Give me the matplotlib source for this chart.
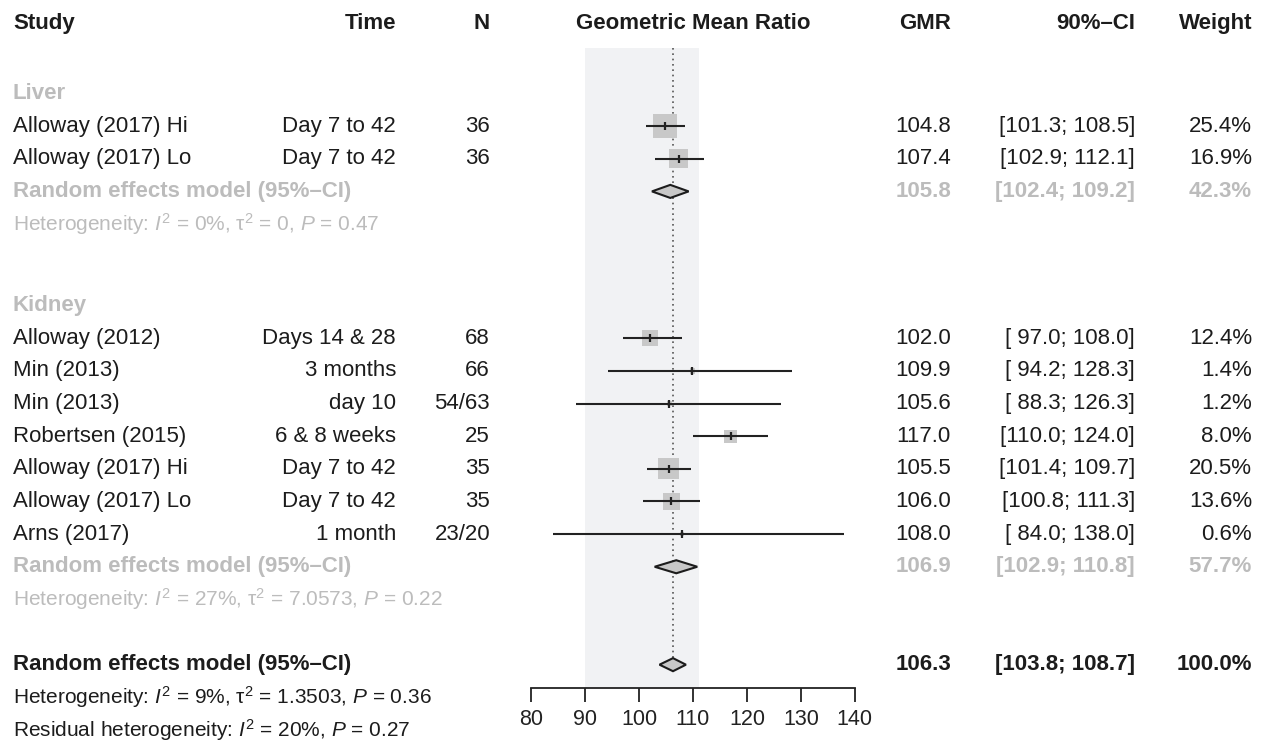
import matplotlib
matplotlib.use("Agg")
import matplotlib.pyplot as plt
from matplotlib.transforms import blended_transform_factory

plt.rcParams['font.family'] = ['Liberation Sans', 'DejaVu Sans']
plt.rcParams['mathtext.fontset'] = 'custom'
plt.rcParams['mathtext.rm'] = 'Liberation Sans'
plt.rcParams['mathtext.it'] = 'Liberation Sans:italic'
plt.rcParams['mathtext.bf'] = 'Liberation Sans:bold'

# ---------------- data ----------------
liver_study = ["Alloway (2017) Hi", "Alloway (2017) Lo"]
liver_time = ["Day 7 to 42", "Day 7 to 42"]
liver_n = ["36", "36"]
liver_gmr = [104.8, 107.4]
liver_lo = [101.3, 102.9]
liver_hi = [108.5, 112.1]
liver_w = [25.4, 16.9]
liver_re = (105.8, 102.4, 109.2, 42.3)
liver_het = r"Heterogeneity: $I^2$ = 0%, τ$^2$ = 0, $P$ = 0.47"

kidney_study = ["Alloway (2012)", "Min (2013)", "Min (2013)", "Robertsen (2015)",
                "Alloway (2017) Hi", "Alloway (2017) Lo", "Arns (2017)"]
kidney_time = ["Days 14 & 28", "3 months", "day 10", "6 & 8 weeks",
               "Day 7 to 42", "Day 7 to 42", "1 month"]
kidney_n = ["68", "66", "54/63", "25", "35", "35", "23/20"]
kidney_gmr = [102.0, 109.9, 105.6, 117.0, 105.5, 106.0, 108.0]
kidney_lo = [97.0, 94.2, 88.3, 110.0, 101.4, 100.8, 84.0]
kidney_hi = [108.0, 128.3, 126.3, 124.0, 109.7, 111.3, 138.0]
kidney_w = [12.4, 1.4, 1.2, 8.0, 20.5, 13.6, 0.6]
kidney_re = (106.9, 102.9, 110.8, 57.7)
kidney_het = r"Heterogeneity: $I^2$ = 27%, τ$^2$ = 7.0573, $P$ = 0.22"

overall_re = (106.3, 103.8, 108.7, 100.0)
overall_het = r"Heterogeneity: $I^2$ = 9%, τ$^2$ = 1.3503, $P$ = 0.36"
resid_het = r"Residual heterogeneity: $I^2$ = 20%, $P$ = 0.27"

x_ticks = [80, 90, 100, 110, 120, 130, 140]
equiv_band = (90, 111.11)
headers = ["Study", "Time", "N", "Geometric Mean Ratio", "GMR", "90%–CI", "Weight"]

# ---------------- layout ----------------
W, H = 1264, 752
fig = plt.figure(figsize=(W / 100, H / 100), dpi=100)
y0, s = 28.2, 32.64          # pixel of row 0, row spacing
ytop = (0 - y0) / s
ybot = (H - y0) / s
x80, x140 = 531.1, 854.8

fx = fig.add_axes([x80 / W, 0, (x140 - x80) / W, 1])
fx.set_xlim(80, 140)
fx.set_ylim(ybot, ytop)
fx.patch.set_alpha(0)
for sp in ['top', 'left', 'right']:
    fx.spines[sp].set_visible(False)
axis_row = (688 - y0) / s
fx.spines['bottom'].set_position(('data', axis_row))
fx.spines['bottom'].set_bounds(80, 140)
fx.spines['bottom'].set_color('#222222')
fx.spines['bottom'].set_linewidth(1.3)
fx.set_yticks([])
fx.set_xticks(x_ticks)
fx.set_xticklabels([str(t) for t in x_ticks])
fx.tick_params(axis='x', direction='out', length=10, width=1.3, color='#222222',
               labelsize=15.5, labelcolor='#222222', pad=5)

trans = blended_transform_factory(fig.transFigure, fx.transData)

BLACK = '#1c1c1c'
GREY = '#bcbcbc'
SQ = '#c8c8c8'
FS = 16
FSH = 15

col_study = 13 / W
col_time = 396 / W
col_n = 490 / W
col_gmr = 951 / W
col_ci = 1135 / W
col_w = 1252 / W

# header
hr = -0.15
kw = dict(transform=trans, va='center', fontsize=FS, fontweight='bold', color=BLACK)
fig.text(col_study, hr, headers[0], ha='left', **kw)
fig.text(col_time, hr, headers[1], ha='right', **kw)
fig.text(col_n, hr, headers[2], ha='right', **kw)
fx.text(110, hr, headers[3], ha='center', va='center', fontsize=FS, fontweight='bold', color=BLACK)
fig.text(col_gmr, hr, headers[4], ha='right', **kw)
fig.text(col_ci, hr, headers[5], ha='right', **kw)
fig.text(col_w, hr, headers[6], ha='right', **kw)

# band and reference line
band_top = 0.6
overall_row = 19.5
fx.fill_betweenx([band_top, axis_row], equiv_band[0], equiv_band[1], color='#f1f2f4',
                 lw=0, zorder=0)
fx.plot([overall_re[0], overall_re[0]], [band_top, overall_row], color='#555555',
        lw=1.2, ls=(0, (1, 2.2)), zorder=1)


def ci_text(lo, hi):
    return "[{:5.1f}; {:5.1f}]".format(lo, hi)


def study_rows(rows, study, time, n, gmr, lo, hi, w):
    for r, st, t, nn, g, l, h, ww in zip(rows, study, time, n, gmr, lo, hi, w):
        kw = dict(transform=trans, va='center', fontsize=FS, color=BLACK)
        fig.text(col_study, r, st, ha='left', **kw)
        fig.text(col_time, r, t, ha='right', **kw)
        fig.text(col_n, r, nn, ha='right', **kw)
        fig.text(col_gmr, r, "{:.1f}".format(g), ha='right', **kw)
        fig.text(col_ci, r, ci_text(l, h), ha='right', **kw)
        fig.text(col_w, r, "{:.1f}%".format(ww), ha='right', **kw)
    fx.scatter(gmr, rows, marker='s', s=[11.2 * ww for ww in w], color=SQ,
               linewidths=0, zorder=2)
    fx.hlines(rows, lo, hi, color='#222222', lw=1.5, zorder=3)
    fx.scatter(gmr, rows, marker='|', s=40, color='#222222', linewidths=1.6, zorder=4)


def pooled_row(r, re, color, label_color):
    est, lo, hi, w = re
    kw = dict(transform=trans, va='center', fontsize=FS, fontweight='bold', color=label_color)
    fig.text(col_study, r, "Random effects model (95%–CI)", ha='left', **kw)
    fig.text(col_gmr, r, "{:.1f}".format(est), ha='right', **kw)
    fig.text(col_ci, r, ci_text(lo, hi), ha='right', **kw)
    fig.text(col_w, r, "{:.1f}%".format(w), ha='right', **kw)
    hh = 0.2
    fx.fill([lo, est, hi, est], [r, r - hh, r, r + hh], facecolor=SQ,
            edgecolor='#1c1c1c', lw=1.5, zorder=5)


# Liver
fig.text(col_study, 2, "Liver", transform=trans, va='center', ha='left', fontsize=FS,
         fontweight='bold', color=GREY)
study_rows([3, 4], liver_study, liver_time, liver_n, liver_gmr, liver_lo, liver_hi, liver_w)
pooled_row(5, liver_re, SQ, GREY)
fig.text(col_study, 6, liver_het, transform=trans, va='center', ha='left', fontsize=FSH,
         color=GREY)

# Kidney
fig.text(col_study, 8.5, "Kidney", transform=trans, va='center', ha='left', fontsize=FS,
         fontweight='bold', color=GREY)
krows = [9.5 + i for i in range(len(kidney_study))]
study_rows(krows, kidney_study, kidney_time, kidney_n, kidney_gmr, kidney_lo, kidney_hi,
           kidney_w)
pooled_row(16.5, kidney_re, SQ, GREY)
fig.text(col_study, 17.5, kidney_het, transform=trans, va='center', ha='left', fontsize=FSH,
         color=GREY)

# Overall
pooled_row(overall_row, overall_re, SQ, BLACK)
fig.text(col_study, 20.5, overall_het, transform=trans, va='center', ha='left', fontsize=FSH,
         color=BLACK)
fig.text(col_study, 21.5, resid_het, transform=trans, va='center', ha='left', fontsize=FSH,
         color=BLACK)

fig.savefig("out.png", dpi=100, facecolor='white')
